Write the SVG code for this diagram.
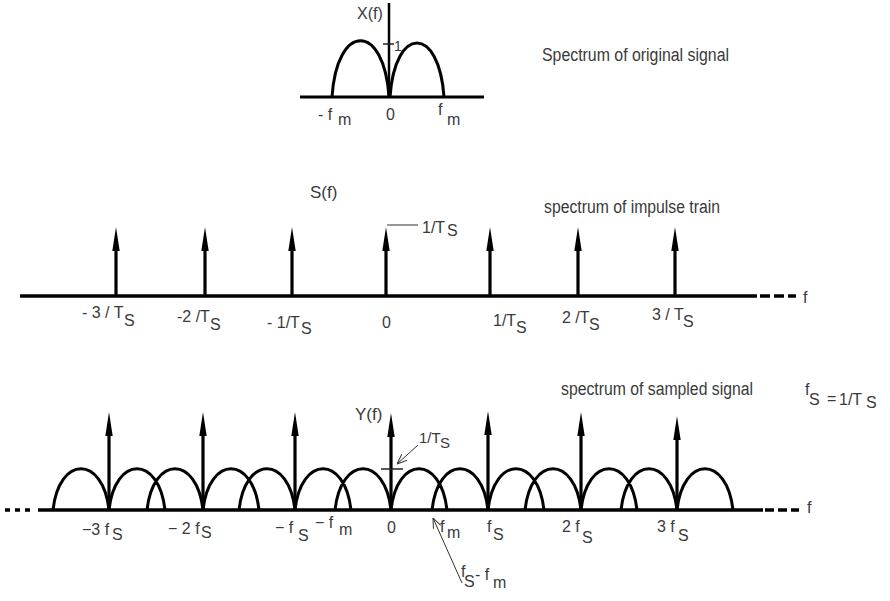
<svg xmlns="http://www.w3.org/2000/svg" width="890" height="601" viewBox="0 0 890 601">
<defs>
<style>
text{font-family:"Liberation Sans",Arial,sans-serif;font-size:16px;fill:#3a3a3a}
.cap{font-size:18px}
.ax{stroke:#000;stroke-width:3.5;fill:none}
.lobe{stroke:#000;stroke-width:3;fill:none}
.imp{stroke:#000;stroke-width:3.2;fill:none;marker-end:url(#head)}
.thin{stroke:#333;stroke-width:1;fill:none}
.tick{stroke:#222;stroke-width:1.5;fill:none}
</style>
<marker id="head" viewBox="0 0 24 8" refX="12" refY="4" markerWidth="24" markerHeight="8" markerUnits="userSpaceOnUse" orient="auto">
<path d="M0,0.3 L24,4 L0,7.7 Z" fill="#000"/>
</marker>
<marker id="open" viewBox="0 0 10 10" refX="10" refY="5" markerWidth="10" markerHeight="10" markerUnits="userSpaceOnUse" orient="auto">
<path d="M0,1 L10,5 L0,9" fill="none" stroke="#333" stroke-width="1"/>
</marker>
</defs>
<rect width="890" height="601" fill="#fff"/>

<g id="original-spectrum">
<line class="ax" x1="300" y1="97" x2="484" y2="97" style="stroke-width:3"/>
<line class="ax" x1="389" y1="3" x2="389" y2="97" style="stroke-width:2.5"/>
<path class="lobe" d="M332,97 C337,22 384,22 389,97"/>
<path class="lobe" d="M390,97 C395,25 439,25 444,97"/>
<line class="tick" x1="383" y1="44" x2="394" y2="44"/>
<text x="357" y="19">X(f)</text>
<text x="394" y="51" style="font-size:14px">1</text>
<text x="318" y="120">- f<tspan x="338" y="125">m</tspan></text>
<text x="386" y="120">0</text>
<text x="438" y="115">f<tspan x="447" y="125">m</tspan></text>
<text class="cap" x="542" y="61" textLength="187" lengthAdjust="spacingAndGlyphs">Spectrum of original signal</text>
</g>

<g id="impulse-train">
<line class="ax" x1="20" y1="296" x2="757" y2="296"/>
<line class="ax" x1="760" y1="296" x2="796" y2="296" style="stroke-dasharray:10 4"/>
<text x="803" y="303">f</text>
<line class="imp" x1="116" y1="296" x2="116" y2="239"/>
<line class="imp" x1="205" y1="296" x2="205" y2="239"/>
<line class="imp" x1="292" y1="296" x2="292" y2="239"/>
<line class="imp" x1="386" y1="296" x2="386" y2="239"/>
<line class="imp" x1="490" y1="296" x2="490" y2="239"/>
<line class="imp" x1="578" y1="296" x2="578" y2="239"/>
<line class="imp" x1="675" y1="296" x2="675" y2="239"/>
<text x="310" y="198" style="font-size:17px">S(f)</text>
<text x="422" y="233">1/T<tspan x="447" y="236">S</tspan></text>
<text class="cap" x="544" y="213" textLength="176" lengthAdjust="spacingAndGlyphs">spectrum of impulse train</text>
<text x="82" y="318">- 3 / T<tspan x="124" y="326">S</tspan></text>
<text x="177" y="322">-2 /T<tspan x="210" y="330">S</tspan></text>
<text x="267" y="328">- 1/T<tspan x="301" y="334">S</tspan></text>
<text x="382" y="328">0</text>
<text x="493" y="326">1/T<tspan x="516" y="333">S</tspan></text>
<text x="562" y="323">2 /T<tspan x="589" y="330">S</tspan></text>
<text x="652" y="320">3 / T<tspan x="683" y="327">S</tspan></text>
</g>

<g id="sampled-spectrum">
<line class="ax" x1="38" y1="510" x2="763" y2="510"/>
<line class="ax" x1="5" y1="510" x2="35" y2="510" style="stroke-dasharray:5 5"/>
<line class="ax" x1="765" y1="510" x2="799" y2="510" style="stroke-dasharray:9 4"/>
<text x="807" y="513">f</text>
<path class="lobe" d="M53,510 C59,455 103,455 109,510 M109,510 C115,455 159,455 165,510
M147,510 C153,455 197,455 203,510 M203,510 C209,455 253,455 259,510
M239,510 C245,455 289,455 295,510 M295,510 C301,455 345,455 351,510
M335,510 C341,455 385,455 391,510 M391,510 C397,455 441,455 447,510
M432,510 C438,455 482,455 488,510 M488,510 C494,455 538,455 544,510
M525,510 C531,455 575,455 581,510 M581,510 C587,455 631,455 637,510
M621,510 C627,455 671,455 677,510 M677,510 C683,455 727,455 733,510"/>
<line class="imp" x1="109" y1="510" x2="109" y2="424"/>
<line class="imp" x1="203" y1="510" x2="203" y2="424"/>
<line class="imp" x1="295" y1="510" x2="295" y2="424"/>
<line class="imp" x1="391" y1="510" x2="391" y2="425"/>
<line class="imp" x1="488" y1="510" x2="488" y2="423"/>
<line class="imp" x1="581" y1="510" x2="581" y2="424"/>
<line class="imp" x1="677" y1="510" x2="677" y2="428"/>
<line class="tick" x1="381" y1="469" x2="403" y2="469"/>
<text x="355" y="420" style="font-size:17px">Y(f)</text>
<text x="419" y="443" style="font-size:15px">1/T<tspan x="440" y="448">S</tspan></text>
<text class="cap" x="561" y="395" textLength="192" lengthAdjust="spacingAndGlyphs">spectrum of sampled signal</text>
<text x="805" y="395">f<tspan x="809" y="405">S</tspan></text>
<text x="827" y="404">=</text>
<text x="839" y="405">1/T<tspan x="866" y="408">S</tspan></text>
<text x="82" y="535">−3 f<tspan x="112" y="540">S</tspan></text>
<text x="168" y="534">− 2 f<tspan x="201" y="538">S</tspan></text>
<text x="275" y="533">− f<tspan x="298" y="541">S</tspan></text>
<text x="315" y="528">− f<tspan x="339" y="535">m</tspan></text>
<text x="387" y="533">0</text>
<text x="440" y="532">f<tspan x="447" y="538">m</tspan></text>
<text x="487" y="532">f<tspan x="493" y="540">S</tspan></text>
<text x="562" y="532">2 f<tspan x="582" y="543">S</tspan></text>
<text x="657" y="532">3 f<tspan x="678" y="541">S</tspan></text>
<text x="461" y="577">f<tspan x="464" y="587">S</tspan><tspan x="475" y="580">- f</tspan><tspan x="493" y="588">m</tspan></text>
</g>

<g id="connectors">
<line class="thin" x1="387" y1="225" x2="418" y2="225"/>
<line class="thin" x1="418" y1="445" x2="397" y2="464" marker-end="url(#open)"/>
<line class="thin" x1="462" y1="583" x2="433" y2="518" marker-end="url(#open)"/>
</g>
</svg>
